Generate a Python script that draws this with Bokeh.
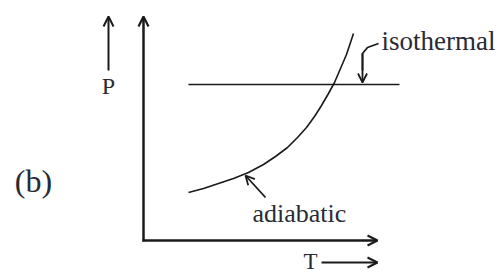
from bokeh.plotting import figure
from bokeh.models import Range1d, Arrow, OpenHead, Label
from bokeh.embed import file_html
from bokeh.resources import INLINE

# Schematic data (arbitrary units, origin at the axes' corner)
adiabatic_T = [45, 60, 75, 90, 105, 120, 132, 144, 154, 163, 171, 178, 185, 191, 197, 203, 210]
adiabatic_P = [48, 52, 57, 62, 68, 76, 84, 93, 103, 113, 124, 135, 147, 158, 172, 186, 207]
isothermal_T = [45, 256]
isothermal_P = [156, 156]
callout_T = [235, 224, 219, 219]
callout_P = [197, 193, 187, 170]

FONT = "Liberation Serif"
INK = "#1a1a1a"
TXT = "#2a2a35"

p = figure(width=502, height=274, output_backend="svg", toolbar_location=None,
           x_range=Range1d(-143, 359), y_range=Range1d(-34, 240),
           min_border=0, min_border_left=0, min_border_right=0,
           min_border_top=0, min_border_bottom=0)
p.axis.visible = False
p.grid.visible = False
p.outline_line_color = None
p.background_fill_color = "white"
p.border_fill_color = "white"

# axes with arrowheads
p.add_layout(Arrow(x_start=0, y_start=-1, x_end=0, y_end=224, line_width=2.5,
                   line_color=INK, end=OpenHead(size=10, line_width=2.2, line_color=INK)))
p.add_layout(Arrow(x_start=-1, y_start=0, x_end=234, y_end=0, line_width=2.5,
                   line_color=INK, end=OpenHead(size=10, line_width=2.2, line_color=INK)))
# P and T arrows
p.add_layout(Arrow(x_start=-35, y_start=170, x_end=-35, y_end=224, line_width=2,
                   line_color=INK, end=OpenHead(size=10, line_width=2, line_color=INK)))
p.add_layout(Arrow(x_start=178, y_start=-22, x_end=234, y_end=-22, line_width=2,
                   line_color=INK, end=OpenHead(size=10, line_width=2, line_color=INK)))

# curves
p.line(isothermal_T, isothermal_P, line_width=1.6, line_color=INK)
p.line(adiabatic_T, adiabatic_P, line_width=1.6, line_color=INK, line_join="round")

# callouts
p.line(callout_T, callout_P, line_width=1.8, line_color=INK)
p.add_layout(Arrow(x_start=219, y_start=187, x_end=219, y_end=158, line_width=1.8,
                   line_color=INK, end=OpenHead(size=9, line_width=1.8, line_color=INK)))
p.add_layout(Arrow(x_start=122, y_start=43, x_end=102, y_end=65, line_width=1.8,
                   line_color=INK, end=OpenHead(size=9, line_width=1.8, line_color=INK)))

def lab(x, y, t, size, align="left"):
    p.add_layout(Label(x=x, y=y, text=t, text_font=FONT, text_font_size=size,
                       text_color=TXT, text_align=align, text_baseline="middle"))

lab(238, 200, "isothermal", "27px")
lab(109, 27, "adiabatic", "26px")
lab(-35, 155, "P", "24px", "center")
lab(167, -21, "T", "23px", "center")
lab(-110, 60, "(b)", "32px", "center")

open("out.html", "w").write(file_html(p, INLINE))
